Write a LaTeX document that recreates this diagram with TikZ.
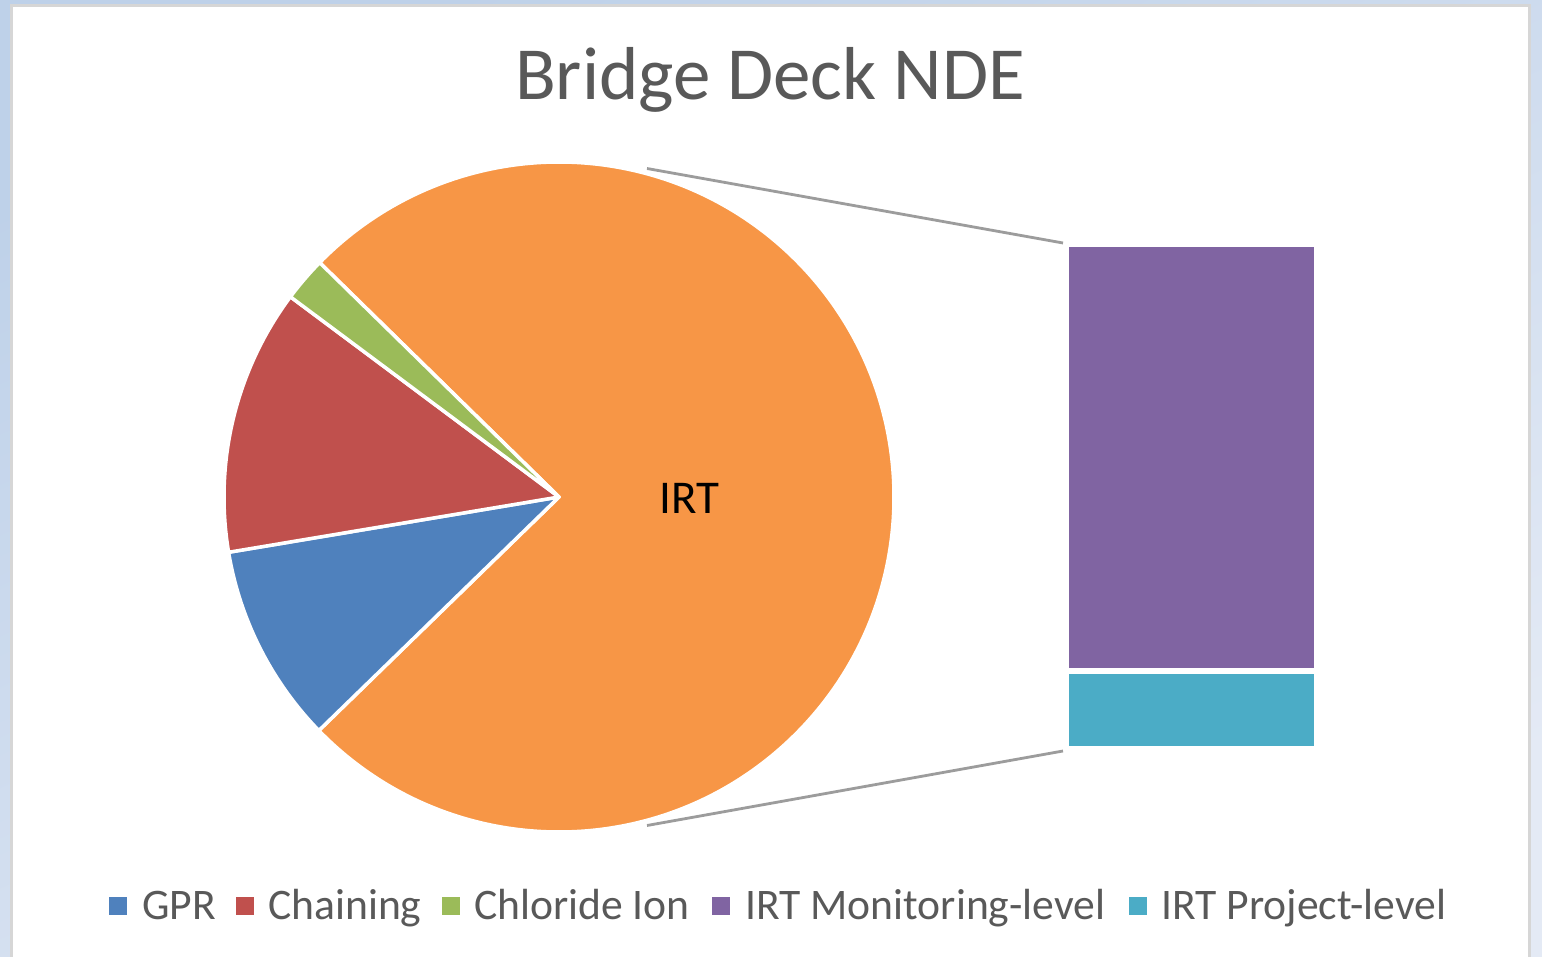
\documentclass[tikz,border=0pt]{standalone}
\usepackage{fontspec}
\setmainfont{Carlito}
\usetikzlibrary{calc}

\definecolor{gprblue}{HTML}{4F81BD}
\definecolor{chainred}{HTML}{C0504D}
\definecolor{clgreen}{HTML}{9BBB59}
\definecolor{irtorange}{HTML}{F79646}
\definecolor{monpurple}{HTML}{8064A2}
\definecolor{projteal}{HTML}{4BACC6}
\definecolor{txtgray}{HTML}{595959}
\definecolor{leadgray}{HTML}{9C9C9C}
\definecolor{framegray}{HTML}{D6D6D6}
\definecolor{winblueA}{HTML}{BED1E9}
\definecolor{winblueB}{HTML}{E4EAF5}

\tikzset{
  slice/.style={draw=white, line width=3.5pt, line join=round},
  barseg/.style={rectangle, draw=white, line width=1.2pt, inner sep=0pt, outer sep=0pt, minimum width=247pt},
  leader/.style={draw=leadgray, line width=2.8pt},
  keybox/.style={rectangle, inner sep=0pt, outer sep=0pt, minimum size=19pt, draw=white, line width=0.6pt},
  keytext/.style={anchor=base west, inner sep=0pt, text=txtgray, font=\fontsize{43.6}{50}\selectfont},
}

\begin{document}
\begin{tikzpicture}[x=1pt, y=-1pt]
  \useasboundingbox (0,0) rectangle (1542,957);

  % window background and chart panel
  \shade[top color=winblueA, bottom color=winblueB, shading angle=25]
    (0,0) rectangle (1542,957);
  \draw[framegray, line width=3pt, fill=white] (11.5,5.5) rectangle (1529.5,975);

  % title
  \node[anchor=base, inner sep=0pt, text=txtgray, font=\fontsize{75}{84}\selectfont]
    (title) at (770,100) {Bridge Deck NDE};

  % pie (visual angles are negated because the y axis points down)
  \coordinate (c) at (559,497);
  \def\R{335}
  \fill[irtorange, slice] (c) -- ++(-224.2:\R) arc[start angle=-224.2, end angle=-495.6, radius=\R] -- cycle;
  \fill[gprblue, slice] (c) -- ++(-189.5:\R) arc[start angle=-189.5, end angle=-224.2, radius=\R] -- cycle;
  \fill[chainred, slice] (c) -- ++(-143.3:\R) arc[start angle=-143.3, end angle=-189.5, radius=\R] -- cycle;
  \fill[clgreen, slice] (c) -- ++(-135.6:\R) arc[start angle=-135.6, end angle=-143.3, radius=\R] -- cycle;

  \node[anchor=base, inner sep=0pt, font=\fontsize{47}{54}\selectfont]
    (irt) at (689.5,513) {IRT};

  % breakdown bar of the IRT slice
  \node[barseg, fill=monpurple, minimum height=423pt] (mon) at (1191.5,457.5) {};
  \node[barseg, fill=projteal, minimum height=74pt] (proj) at (1191.5,710) {};

  % leader lines from the slice to the bar
  \coordinate (ptop) at (647,168.5);
  \coordinate (pbot) at (647,825.5);
  \draw[leader] (ptop) -- ($(mon.north west)+(-5,-3)$);
  \draw[leader] (pbot) -- ($(proj.south west)+(-5,4)$);

  % legend
  \node[keybox, fill=gprblue] (k1) at (117.5,906) {};
  \node[keytext] (t1) at (142,919) {GPR};
  \node[keybox, fill=chainred] (k2) at (244.5,906) {};
  \node[keytext] (t2) at (268,919) {Chaining};
  \node[keybox, fill=clgreen] (k3) at (451,906) {};
  \node[keytext] (t3) at (474,919) {Chloride Ion};
  \node[keybox, fill=monpurple] (k4) at (720.5,906) {};
  \node[keytext] (t4) at (745,919) {IRT Monitoring-level};
  \node[keybox, fill=projteal] (k5) at (1137.5,906) {};
  \node[keytext] (t5) at (1161,919) {IRT Project-level};
\end{tikzpicture}
\end{document}
